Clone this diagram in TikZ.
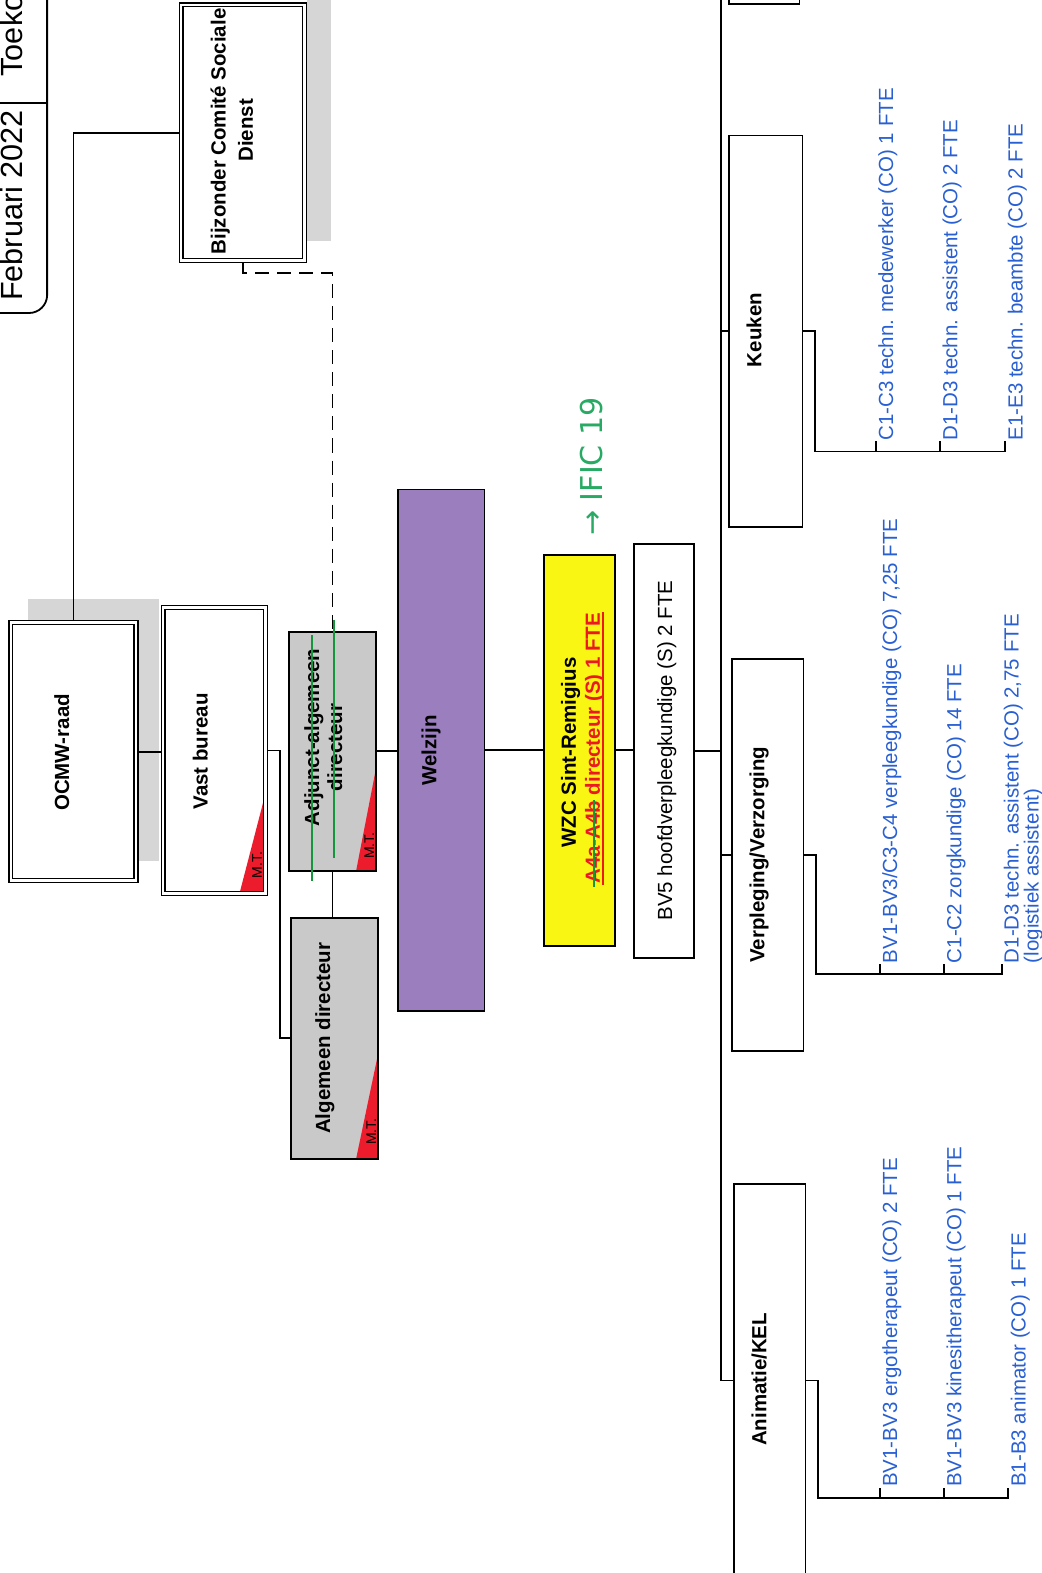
\documentclass[tikz,border=0pt]{standalone}
\usepackage{fontspec}
\setmainfont{Liberation Sans}
\newfontfamily\handfont{DejaVu Sans}
\definecolor{boxgray}{RGB}{201,201,201}
\definecolor{shadowgray}{RGB}{214,214,214}
\definecolor{mtred}{RGB}{236,28,44}
\definecolor{welzpurple}{RGB}{155,126,190}
\definecolor{wzcyellow}{RGB}{250,246,20}
\definecolor{roleblue}{RGB}{40,95,210}
\definecolor{penGreen}{RGB}{22,150,60}
\definecolor{annGreen}{RGB}{40,170,100}
\definecolor{dirred}{RGB}{235,25,35}
\begin{document}
\begin{tikzpicture}[x=1pt, y=-1pt, line width=1.8pt,
  bx/.style={draw, inner sep=0pt, outer sep=0pt, anchor=north west, line width=1.8pt},
  dbx/.style={bx, double, double distance=2.4pt, line width=1.5pt, fill=white, outer sep=2.7pt},
  mtri/.style 2 args={path picture={\fill[mtred] (path picture bounding box.south east) -- ++(0,-#1) -- ++(-#2,#1) -- cycle;}},
  lbl/.style={rotate=90, anchor=base, inner sep=0pt, font=\bfseries\fontsize{20.4}{24}\selectfont},
  mt/.style={rotate=90, anchor=base, inner sep=0pt, font=\fontsize{14}{16}\selectfont},
  role/.style={rotate=90, anchor=north west, inner sep=0pt, outer sep=0pt, text height=15.3pt, text depth=4.3pt, text=roleblue, font=\fontsize{20.4}{24}\selectfont},
  strike/.style={penGreen, line width=2pt}]
\useasboundingbox (0,0) rectangle (1038,1568);

% shadows
\fill[shadowgray] (28,597) rectangle (158,858);
\fill[shadowgray] (306,-25) rectangle (330,240);

% header
\node[draw, rounded corners=18pt, inner sep=0pt, outer sep=0pt, anchor=north west, minimum width=87pt, minimum height=352pt] (hdr) at (-40,-40) {};
\draw (hdr.west |- 0,103) -- (hdr.east |- 0,103);
\node[rotate=90, anchor=base, inner sep=0pt, font=\fontsize{30.5}{36}\selectfont] (hdrdate) at (22,205) {Februari 2022};
\node[rotate=90, anchor=base west, inner sep=0pt, font=\fontsize{30.5}{36}\selectfont] (hdrtitle) at (22,77) {Toeko};

% boxes
\node[dbx, minimum width=123pt, minimum height=255pt] (bcsd) at (178,2) {};
\node[dbx, minimum width=125pt, minimum height=257pt] (ocmw) at (8,618) {};
\node[dbx, minimum width=102pt, minimum height=285pt, mtri={100}{26}] (vast) at (160,603) {};
\node[bx, fill=boxgray, minimum width=87pt, minimum height=238pt, mtri={103}{20}] (adj) at (288,630) {};
\node[bx, fill=boxgray, minimum width=87pt, minimum height=240pt, mtri={105}{22}] (alg) at (290,915) {};
\node[bx, fill=welzpurple, minimum width=86pt, minimum height=520pt] (welz) at (397,488) {};
\node[bx, fill=wzcyellow, minimum width=71pt, minimum height=390pt] (wzc) at (542,553) {};
\node[bx, fill=white, minimum width=60pt, minimum height=413pt] (bv5) at (632,542) {};
\node[bx, fill=white, minimum width=70pt, minimum height=40pt] (topbox) at (727,-36) {};
\node[bx, fill=white, minimum width=73pt, minimum height=390pt] (keuken) at (727,135) {};
\node[bx, fill=white, minimum width=71pt, minimum height=391pt] (verpl) at (730,657) {};
\node[bx, fill=white, minimum width=71pt, minimum height=392pt] (anim) at (732,1180) {};

% connectors
\coordinate (bustop) at (719,-10);
\draw (bcsd.west) -| (ocmw.north);
\draw[dash pattern=on 14pt off 8pt] (bcsd.south) -- ++(0,10) -| (adj.north);
\draw (ocmw.east) -- (vast.west |- ocmw.east);
\draw (vast.east) -- ++(12,0) |- (alg.west);
\draw (adj.south) -- (adj.south |- alg.north);
\draw (adj.east) -- (welz.west |- adj.east);
\draw (welz.east) -- (wzc.west |- welz.east);
\draw (wzc.east) -- (bv5.west |- wzc.east);
\draw (bv5.east) -- (bv5.east -| bustop);
\draw (bustop) |- (anim.west);
\draw (keuken.west -| bustop) -- (keuken.west);
\draw (verpl.west -| bustop) -- (verpl.west);

% labels
\node[lbl] (ocmwT) at (69,750) {OCMW-raad};
\node[lbl] (vastT) at (207,749) {Vast bureau};
\node[lbl] (bcsdA) at (225,131) {Bijzonder Comité Sociale};
\node[lbl] (bcsdB) at (252,130) {Dienst};
\node[lbl] (adjA) at (318,735) {Adjunct-algemeen};
\node[lbl] (adjB) at (341,745) {directeur};
\node[lbl] (algT) at (329,1035) {Algemeen directeur};
\node[lbl] (welzT) at (435,748) {Welzijn};
\node[lbl] (wzcA) at (574,750) {WZC Sint-Remigius};
\node[lbl, text=dirred] (wzcB) at (598,746) {A4a-A4b directeur (S) 1 FTE};
\node[lbl, font=\fontsize{20.4}{24}\selectfont] (bv5T) at (670,748) {BV5 hoofdverpleegkundige (S) 2 FTE};
\node[lbl] (keukenT) at (759,329) {Keuken};
\node[lbl] (verplT) at (762,852) {Verpleging/Verzorging};
\node[lbl] (animT) at (764,1375) {Animatie/KEL};

\node[mt] (vastMT) at (261,862) {M.T.};
\node[mt] (adjMT) at (373,843) {M.T.};
\node[mt] (algMT) at (375,1128) {M.T.};

% strike-throughs and annotations
\draw[strike] (311,633) -- (311,878);
\draw[strike] (333,618) -- (333,855);
\draw[dirred, line width=1.6pt] ([xshift=3pt]wzcB.base west) -- ([xshift=3pt]wzcB.base east);
\draw[strike] ([xshift=-6pt,yshift=-2pt]wzcB.base west) -- ++(0,-86);
\node[rotate=90, anchor=base, inner sep=0pt, text=annGreen, font=\handfont\fontsize{30}{36}\selectfont] (ific) at (601,465) {→ IFIC 19};

% Keuken roles
\draw (keuken.east) -- ++(12,0) |- (1002,450) -- ++(0,-10);
\draw (873,450) -- ++(0,-10);
\draw (937,450) -- ++(0,-10);
\node[role] (k1) at (875,439) {C1-C3 techn. medewerker (CO) 1 FTE};
\node[role] (k2) at (939,439) {D1-D3 techn. assistent (CO) 2 FTE};
\node[role] (k3) at (1004,439) {E1-E3 techn. beambte (CO) 2 FTE};

% Verpleging roles
\draw (verpl.east) -- ++(12,0) |- (999,971) -- ++(0,-10);
\draw (877,971) -- ++(0,-10);
\draw (941,971) -- ++(0,-10);
\node[role] (v1) at (879,960) {BV1-BV3/C3-C4 verpleegkundige (CO) 7,25 FTE};
\node[role] (v2) at (943,960) {C1-C2 zorgkundige (CO) 14 FTE};
\node[role] (v3) at (1000,960) {D1-D3 techn. assistent (CO) 2,75 FTE};
\node[role] (v3b) at (1020,960) {(logistiek assistent)};

% Animatie roles
\draw (anim.east) -- ++(12,0) |- (1005,1493) -- ++(0,-10);
\draw (877,1493) -- ++(0,-10);
\draw (941,1493) -- ++(0,-10);
\node[role] (a1) at (879,1482) {BV1-BV3 ergotherapeut (CO) 2 FTE};
\node[role] (a2) at (943,1482) {BV1-BV3 kinesitherapeut (CO) 1 FTE};
\node[role] (a3) at (1007,1482) {B1-B3 animator (CO) 1 FTE};
\end{tikzpicture}
\end{document}
